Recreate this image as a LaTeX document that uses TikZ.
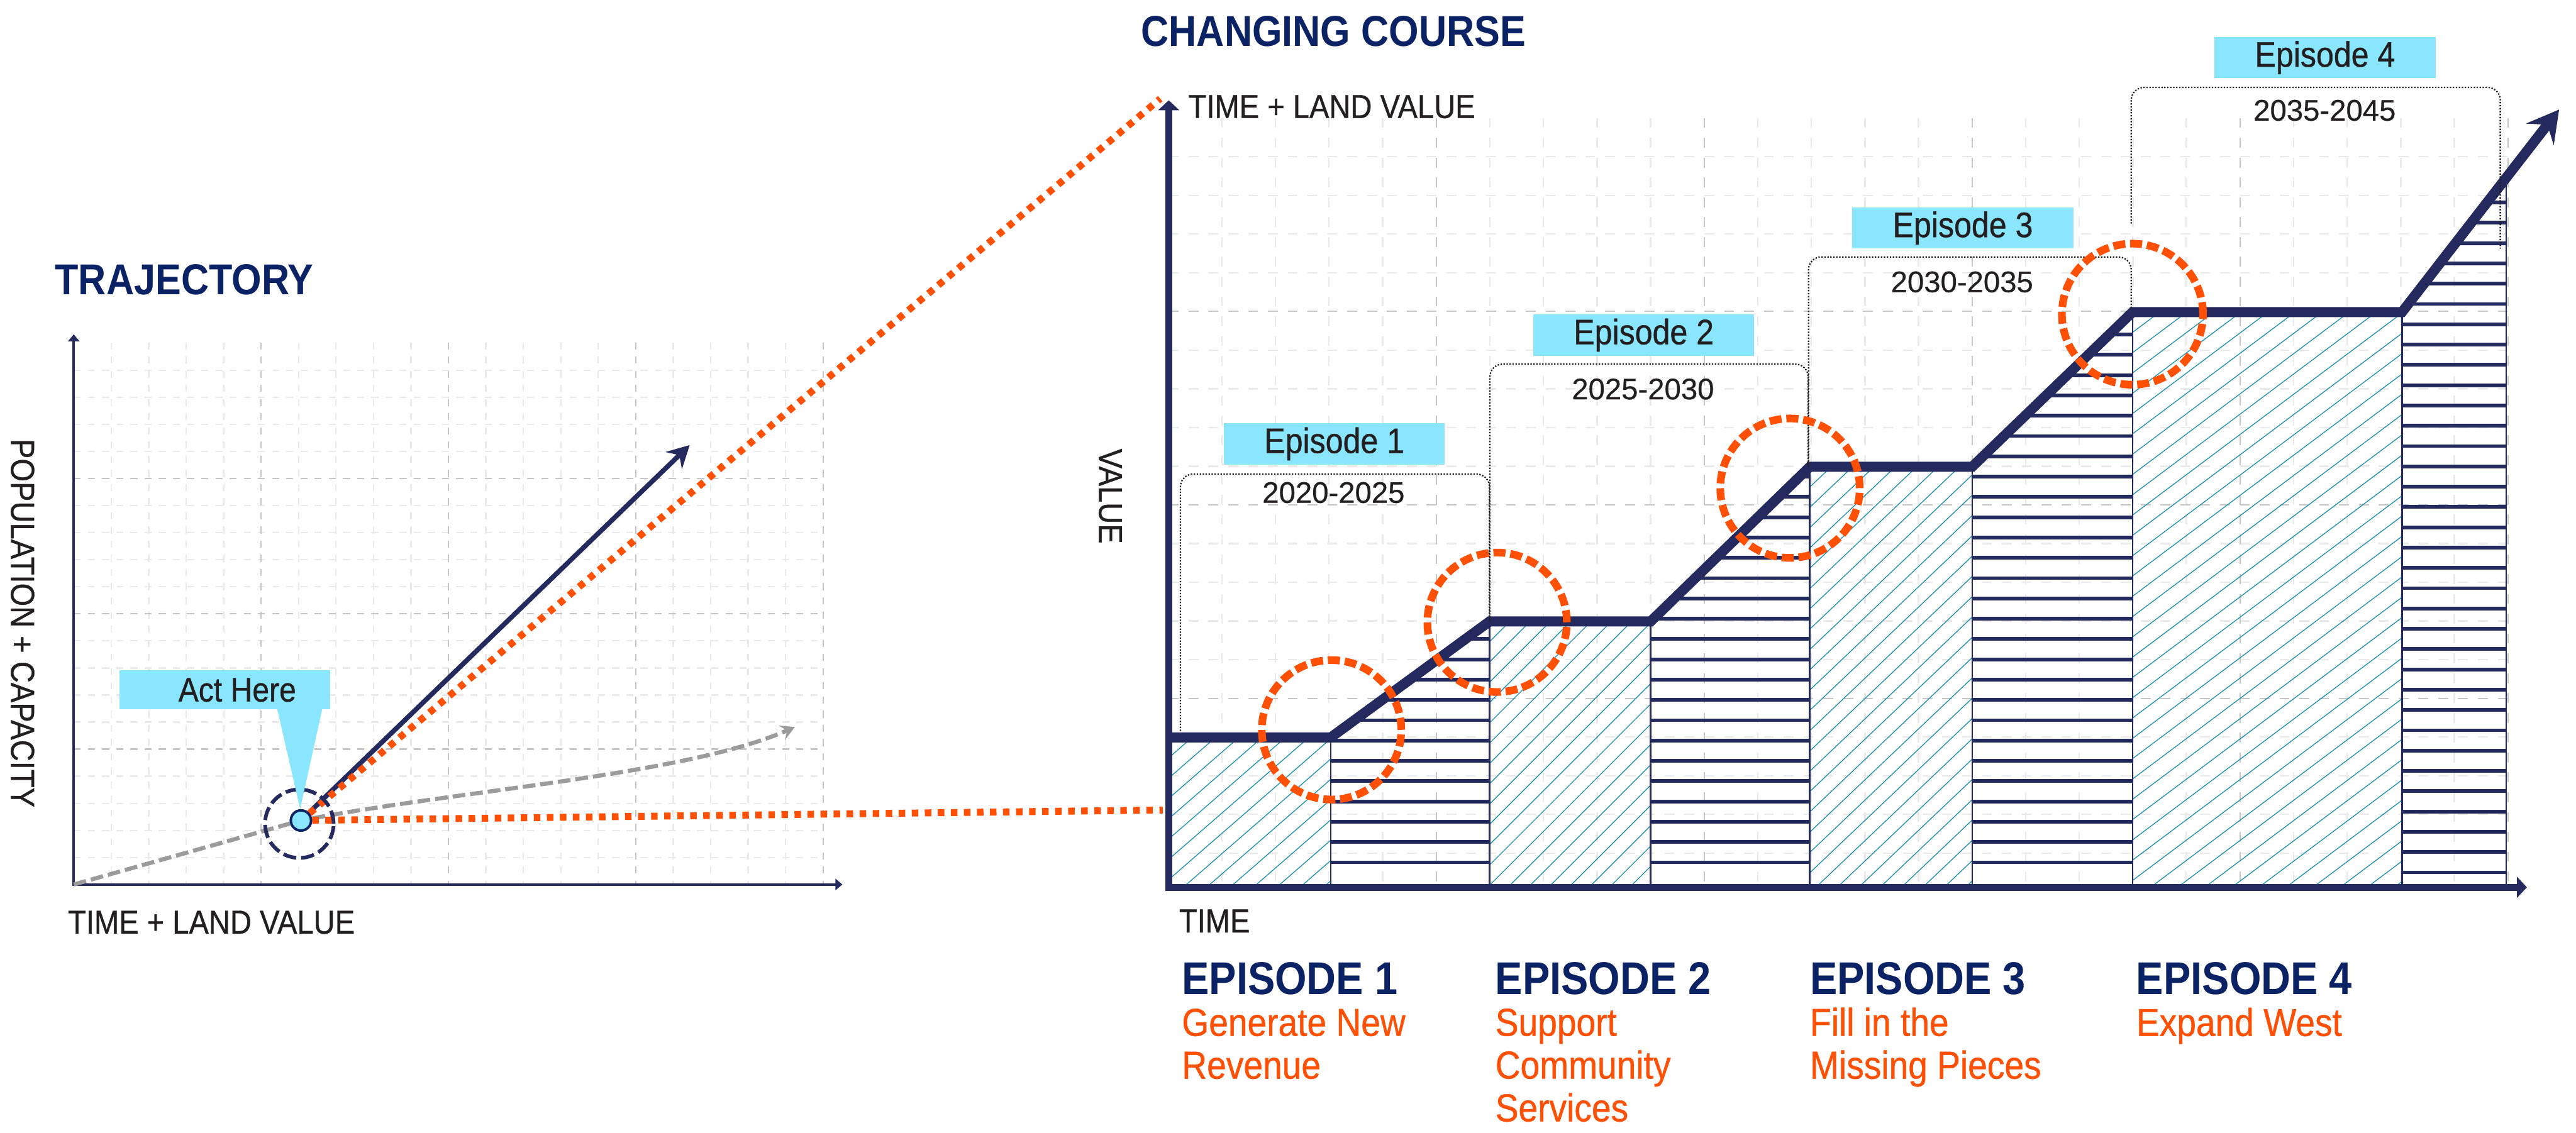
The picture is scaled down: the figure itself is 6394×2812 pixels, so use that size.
\documentclass[tikz,border=0pt]{standalone}
\usepackage{fontspec}
\setmainfont[FakeStretch=0.89]{Liberation Sans}
\newfontfamily\midfont[FakeStretch=0.89,FakeBold=0.7]{Liberation Sans}
\newfontfamily\yearfont[FakeBold=0.5]{Liberation Sans}
\usetikzlibrary{arrows.meta}

\definecolor{navy}{HTML}{252A5E}
\definecolor{deepblue}{HTML}{0B2265}
\definecolor{flame}{HTML}{FF5005}
\definecolor{sky}{HTML}{8AE6FE}
\definecolor{hatchblue}{HTML}{2390B0}
\definecolor{gridlight}{HTML}{EAEAEA}
\definecolor{griddark}{HTML}{C6C6C6}
\definecolor{ink}{HTML}{231F20}
\definecolor{driftgray}{HTML}{9B9B9B}

\tikzset{
	gridline/.style={draw=gridlight,line width=1pt},
	gridmajor/.style={draw=griddark,line width=1pt},
	hatch/.style={draw=hatchblue,line width=0.6pt},
	stripe/.style={draw=navy,line width=2.6pt},
	blockedge/.style={draw=navy,line width=1.1pt},
}

% hatched block: left x, top y, right x, slope of the hatch
\newcommand{\hatchblock}[4]{
	\begin{scope}
		\clip (#1,#2) rectangle (#3,2203);
		\foreach \i in {0,...,40}
			\draw[hatch] (#1,{#2+50.4*\i}) -- ++({#3-#1},{-#4*(#3-#1)});
	\end{scope}
	\draw[blockedge] (#1,2203) -- (#1,#2) (#3,#2) -- (#3,2203);
}

% striped block under a rising edge: left x, left top, right x, right top, first stripe
\newcommand{\stripeblock}[5]{
	\begin{scope}
		\clip (#1,2203) -- (#1,#2) -- (#3,#4) -- (#3,2203) -- cycle;
		\foreach \i in {0,...,40}
			\draw[stripe] (#1,{#5-50.4*\i}) -- (#3,{#5-50.4*\i});
	\end{scope}
	\draw[blockedge] (#1,2203) -- (#1,#2) (#3,#4) -- (#3,2203);
}

\begin{document}
\begin{tikzpicture}[x=0.01cm,y=-0.01cm,
	charttitle/.style={font=\fontsize{30.5}{36}\selectfont\bfseries,text=deepblue,inner sep=0,anchor=base west},
	axislabel/.style={font=\midfont\fontsize{23.5}{28}\selectfont,text=ink,inner sep=0},
	laxis/.style={draw=navy,line width=2pt,{Triangle[length=5pt,width=8pt]}-{Triangle[length=5pt,width=8pt]}},
	raxis/.style={draw=navy,line width=4.8pt,line join=miter,{Triangle[length=7pt,width=14.5pt]}-{Triangle[length=7pt,width=14.5pt]}},
	zoomline/.style={draw=flame,line width=4.9pt,dash pattern=on 4.6pt off 4.6pt},
	ring/.style={draw=flame,line width=5.4pt,dash pattern=on 8.5pt off 3.4pt},
	badge/.style={fill=sky,minimum width=5.48cm,minimum height=1.02cm,inner sep=0,font=\midfont\fontsize{25}{30}\selectfont,text=ink},
	yearbox/.style={draw=ink,line width=1pt,dash pattern=on 1pt off 1.1pt,rounded corners=9pt},
	yearlabel/.style={font=\yearfont\fontsize{21}{25}\selectfont,text=ink,inner sep=0},
	epname/.style={font=\fontsize{32.4}{38}\selectfont\bfseries,text=deepblue,inner sep=0,anchor=base west},
	epgoal/.style={font=\midfont\fontsize{27.5}{30.2}\selectfont,text=flame,inner sep=0,anchor=base west,align=left},
]
	\useasboundingbox (0,0) rectangle (6394,2812);

	% trajectory grid
	\begin{scope}[dash pattern=on 5pt off 5pt]
		\foreach \k in {1,...,20}
			\draw[gridline] ({183+93*\k},850) -- ({183+93*\k},2196);
		\foreach \k in {1,...,19}
			\draw[gridline] (183,{2196-67.2*\k}) -- (2043,{2196-67.2*\k});
		\foreach \k in {5,10,15,20}
			\draw[gridmajor] ({183+93*\k},850) -- ({183+93*\k},2196);
		\foreach \k in {5,10,15}
			\draw[gridmajor] (183,{2196-67.2*\k}) -- (2043,{2196-67.2*\k});
	\end{scope}

	% changing course grid
	\begin{scope}[dash pattern=on 7pt off 7pt]
		\foreach \k in {1,...,25}
			\draw[gridline] ({2900+133*\k},293) -- ({2900+133*\k},2203);
		\foreach \k in {1,...,19}
			\draw[gridline] (2901,{2214-96.05*\k}) -- (6225,{2214-96.05*\k});
		\foreach \k in {5,10,15,20,25}
			\draw[gridmajor] ({2900+133*\k},293) -- ({2900+133*\k},2203);
		\foreach \k in {5,10,15}
			\draw[gridmajor] (2901,{2214-96.05*\k}) -- (6225,{2214-96.05*\k});
	\end{scope}

	% trajectory chart
	\node[charttitle] (trajtitle) at (136,732) {TRAJECTORY};
	\node[axislabel,anchor=base west] (trajx) at (168,2318) {TIME + LAND VALUE};
	\node[axislabel,rotate=-90] (trajy) at (56,1547) {POPULATION + CAPACITY};
	\draw[laxis] (183,830) -- (183,2196) -- (2091,2196);

	\coordinate (trajorigin) at (183,2196);
	\coordinate (drifttip) at (1973,1805);
	\coordinate (surgetip) at (1712,1105);
	\coordinate (coursetop) at (2880,245);
	\coordinate (coursebase) at (2886,2011);

	\node[circle,draw=deepblue,line width=1.7pt,fill=sky,minimum size=0.5cm,inner sep=0] (actdot) at (747,2037) {};

	\draw[driftgray,line width=2.9pt,dash pattern=on 9pt off 3.5pt,-{Stealth[length=10pt,width=11pt,inset=4pt]}]
		(trajorigin) -- (actdot.center) .. controls (1150,1960) and (1700,1925) .. (drifttip);
	\draw[navy,line width=3.4pt,-{Stealth[length=15.6pt,width=16.5pt,inset=5.4pt]}] (actdot) -- (surgetip);
	\draw[zoomline] (actdot) -- (coursetop);
	\draw[zoomline] (actdot) -- (coursebase);
	\draw[navy,line width=2.6pt,dash pattern=on 9.4pt off 3.4pt] (743,2045) circle[radius=0.85cm];

	\node[fill=sky,minimum width=5.22cm,minimum height=0.97cm,inner sep=0,font=\midfont\fontsize{24}{28}\selectfont,text=ink] (acthere) at (558,1713) {\hspace*{0.62cm}Act Here};
	\fill[sky] (688,1760) -- (800,1760) -- (745,2008) -- cycle;
	\node[circle,draw=deepblue,line width=1.7pt,fill=sky,minimum size=0.5cm,inner sep=0] at (actdot) {};

	% changing course chart
	\hatchblock{2901}{1831}{3303}{0.87}
	\stripeblock{3303}{1831}{3697}{1543}{2141}
	\hatchblock{3697}{1543}{4097}{1.0}
	\stripeblock{4097}{1543}{4492}{1159}{2141}
	\hatchblock{4492}{1159}{4895}{0.95}
	\stripeblock{4895}{1159}{5293}{775}{2141}
	\hatchblock{5293}{775}{5962}{0.75}
	\stripeblock{5962}{775}{6221}{441}{2166}

	\draw[navy,line width=7.1pt,line join=miter,-{Stealth[length=22pt,width=24.5pt,inset=8.5pt]}]
		(2901,1831) -- (3303,1831) -- (3697,1543) -- (4097,1543) -- (4492,1159)
		-- (4895,1159) -- (5293,775) -- (5962,775) -- (6352,272);
	\draw[raxis] (2901,249) -- (2901,2203) -- (6272,2203);

	\node[charttitle] (coursetitle) at (2832,115) {CHANGING COURSE};
	\node[axislabel,anchor=base west] (coursey) at (2949,293) {TIME + LAND VALUE};
	\node[axislabel,rotate=-90] (valuelabel) at (2756,1232) {VALUE};
	\node[axislabel,anchor=base west] (timelabel) at (2926,2315) {TIME};

	\draw[yearbox] (2930,1815) -- (2930,1177) -- (3697,1177) -- (3697,1541);
	\draw[yearbox] (3698,1541) -- (3698,904) -- (4488,904) -- (4488,1159);
	\draw[yearbox] (4489,1159) -- (4489,638) -- (5290,638) -- (5290,765);
	\draw[yearbox] (5290,555) -- (5290,217) -- (6206,217) -- (6206,617);

	\node[badge] (badge1) at (3312,1102) {Episode 1};
	\node[badge] (badge2) at (4080,832) {Episode 2};
	\node[badge] (badge3) at (4872,566) {Episode 3};
	\node[badge] (badge4) at (5771,143) {Episode 4};

	\node[yearlabel] (years1) at (3310,1223) {2020-2025};
	\node[yearlabel] (years2) at (4078,966) {2025-2030};
	\node[yearlabel] (years3) at (4870,700) {2030-2035};
	\node[yearlabel] (years4) at (5770,274) {2035-2045};

	\draw[ring] (3305,1812) circle[radius=1.73cm];
	\draw[ring] (3716,1545) circle[radius=1.73cm];
	\draw[ring] (4443,1212) circle[radius=1.73cm];
	\draw[ring] (5293,780) circle[radius=1.75cm];

	% episode captions, anchored on the last line
	\node[epname] (ep1) at (2933,2469) {EPISODE 1};
	\node[epname] (ep2) at (3711,2469) {EPISODE 2};
	\node[epname] (ep3) at (4492,2469) {EPISODE 3};
	\node[epname] (ep4) at (5302,2469) {EPISODE 4};
	\node[epgoal] (goal1) at (2933,2678) {Generate New\\Revenue};
	\node[epgoal] (goal2) at (3711,2784) {Support\\Community\\Services};
	\node[epgoal] (goal3) at (4492,2678) {Fill in the\\Missing Pieces};
	\node[epgoal] (goal4) at (5302,2572) {Expand West};
\end{tikzpicture}
\end{document}
